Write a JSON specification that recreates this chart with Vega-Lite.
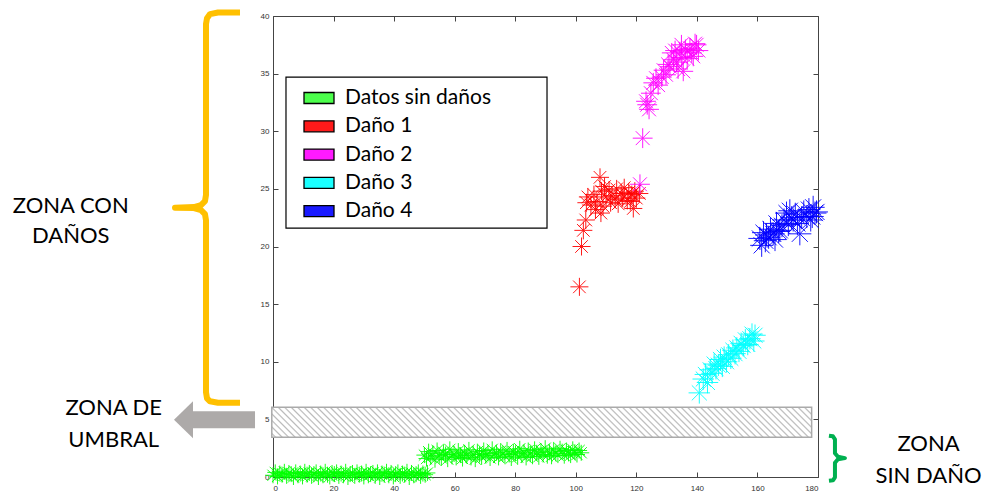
{
"$schema":"https://vega.github.io/schema/vega-lite/v6.json",
"autosize":{"type":"none"},
"padding":{"left":273,"top":16,"right":172,"bottom":14},
"width":545,"height":461,
"background":"white",
"config":{"view":{"stroke":null},"axis":{"grid":false,"domainColor":"#444444","tickColor":"#444444","labelColor":"#333333","labelFont":"Liberation Sans","labelFontSize":8,"tickSize":-5,"domainWidth":1}},
"resolve":{"axis":{"x":"independent","y":"independent"}},
"datasets":{
"umbral":[{"x1":-0.4,"x2":177.9,"y1":3.45,"y2":6.05}],
"marco":[{"x1":4.29,"x2":90.5,"y1":21.6,"y2":34.7}],
"puntos":[
{"serie":"Datos sin daños","x":0,"y":0.15},{"serie":"Datos sin daños","x":0.75,"y":0.4},{"serie":"Datos sin daños","x":1.5,"y":0.05},{"serie":"Datos sin daños","x":2.25,"y":0.3},{"serie":"Datos sin daños","x":3,"y":0.2},{"serie":"Datos sin daños","x":3.75,"y":0.45},{"serie":"Datos sin daños","x":4.5,"y":0.1},{"serie":"Datos sin daños","x":5.25,"y":0.35},{"serie":"Datos sin daños","x":6,"y":0.25},{"serie":"Datos sin daños","x":6.75,"y":0},{"serie":"Datos sin daños","x":7.5,"y":0.4},{"serie":"Datos sin daños","x":8.25,"y":0.15},{"serie":"Datos sin daños","x":9,"y":0.3},{"serie":"Datos sin daños","x":9.75,"y":0.05},{"serie":"Datos sin daños","x":10.5,"y":0.45},{"serie":"Datos sin daños","x":11.25,"y":0.2},{"serie":"Datos sin daños","x":12,"y":0.35},{"serie":"Datos sin daños","x":12.75,"y":0.1},{"serie":"Datos sin daños","x":13.5,"y":0.25},{"serie":"Datos sin daños","x":14.25,"y":0.4},{"serie":"Datos sin daños","x":15,"y":0},{"serie":"Datos sin daños","x":15.75,"y":0.3},{"serie":"Datos sin daños","x":16.5,"y":0.15},{"serie":"Datos sin daños","x":17.25,"y":0.45},{"serie":"Datos sin daños","x":18,"y":0.2},{"serie":"Datos sin daños","x":18.75,"y":0.05},{"serie":"Datos sin daños","x":19.5,"y":0.35},{"serie":"Datos sin daños","x":20.25,"y":0.25},{"serie":"Datos sin daños","x":21,"y":0.4},{"serie":"Datos sin daños","x":21.75,"y":0.1},{"serie":"Datos sin daños","x":22.5,"y":0.3},{"serie":"Datos sin daños","x":23.25,"y":0.15},{"serie":"Datos sin daños","x":24,"y":0.45},{"serie":"Datos sin daños","x":24.75,"y":0},{"serie":"Datos sin daños","x":25.5,"y":0.25},{"serie":"Datos sin daños","x":26.25,"y":0.35},{"serie":"Datos sin daños","x":27,"y":0.1},{"serie":"Datos sin daños","x":27.75,"y":0.4},{"serie":"Datos sin daños","x":28.5,"y":0.2},{"serie":"Datos sin daños","x":29.25,"y":0.3},{"serie":"Datos sin daños","x":30,"y":0.05},{"serie":"Datos sin daños","x":30.75,"y":0.45},{"serie":"Datos sin daños","x":31.5,"y":0.15},{"serie":"Datos sin daños","x":32.25,"y":0.25},{"serie":"Datos sin daños","x":33,"y":0.35},{"serie":"Datos sin daños","x":33.75,"y":0.1},{"serie":"Datos sin daños","x":34.5,"y":0.4},{"serie":"Datos sin daños","x":35.25,"y":0},{"serie":"Datos sin daños","x":36,"y":0.3},{"serie":"Datos sin daños","x":36.75,"y":0.2},{"serie":"Datos sin daños","x":37.5,"y":0.45},{"serie":"Datos sin daños","x":38.25,"y":0.15},{"serie":"Datos sin daños","x":39,"y":0.35},{"serie":"Datos sin daños","x":39.75,"y":0.05},{"serie":"Datos sin daños","x":40.5,"y":0.25},{"serie":"Datos sin daños","x":41.25,"y":0.4},{"serie":"Datos sin daños","x":42,"y":0.1},{"serie":"Datos sin daños","x":42.75,"y":0.3},{"serie":"Datos sin daños","x":43.5,"y":0.2},{"serie":"Datos sin daños","x":44.25,"y":0.45},{"serie":"Datos sin daños","x":45,"y":0},{"serie":"Datos sin daños","x":45.75,"y":0.35},{"serie":"Datos sin daños","x":46.5,"y":0.15},{"serie":"Datos sin daños","x":47.25,"y":0.25},{"serie":"Datos sin daños","x":48,"y":0.4},{"serie":"Datos sin daños","x":48.75,"y":0.1},{"serie":"Datos sin daños","x":49.5,"y":0.3},{"serie":"Datos sin daños","x":50.25,"y":0.2},{"serie":"Datos sin daños","x":51,"y":0.35},
{"serie":"Datos sin daños","x":50,"y":1.9},{"serie":"Datos sin daños","x":50.7,"y":1.6},{"serie":"Datos sin daños","x":51.4,"y":2.2},{"serie":"Datos sin daños","x":52.1,"y":1.75},{"serie":"Datos sin daños","x":52.8,"y":2.05},{"serie":"Datos sin daños","x":53.5,"y":1.5},{"serie":"Datos sin daños","x":54.2,"y":2.3},{"serie":"Datos sin daños","x":54.9,"y":1.85},{"serie":"Datos sin daños","x":55.6,"y":1.65},{"serie":"Datos sin daños","x":56.3,"y":2.15},{"serie":"Datos sin daños","x":57,"y":1.95},{"serie":"Datos sin daños","x":57.7,"y":1.55},{"serie":"Datos sin daños","x":58.4,"y":2.4},{"serie":"Datos sin daños","x":59.1,"y":1.8},{"serie":"Datos sin daños","x":59.8,"y":2},{"serie":"Datos sin daños","x":60.5,"y":1.7},{"serie":"Datos sin daños","x":61.2,"y":2.25},{"serie":"Datos sin daños","x":61.9,"y":1.9},{"serie":"Datos sin daños","x":62.6,"y":1.6},{"serie":"Datos sin daños","x":63.3,"y":2.1},{"serie":"Datos sin daños","x":64,"y":1.85},{"serie":"Datos sin daños","x":64.7,"y":2.35},{"serie":"Datos sin daños","x":65.4,"y":1.7},{"serie":"Datos sin daños","x":66.1,"y":2},{"serie":"Datos sin daños","x":66.8,"y":1.55},{"serie":"Datos sin daños","x":67.5,"y":2.2},{"serie":"Datos sin daños","x":68.2,"y":1.95},{"serie":"Datos sin daños","x":68.9,"y":1.75},{"serie":"Datos sin daños","x":69.6,"y":2.3},{"serie":"Datos sin daños","x":70.3,"y":1.85},{"serie":"Datos sin daños","x":71,"y":2.05},{"serie":"Datos sin daños","x":71.7,"y":1.65},{"serie":"Datos sin daños","x":72.4,"y":2.4},{"serie":"Datos sin daños","x":73.1,"y":1.9},{"serie":"Datos sin daños","x":73.8,"y":2.1},{"serie":"Datos sin daños","x":74.5,"y":1.7},{"serie":"Datos sin daños","x":75.2,"y":2.25},{"serie":"Datos sin daños","x":75.9,"y":2},{"serie":"Datos sin daños","x":76.6,"y":1.8},{"serie":"Datos sin daños","x":77.3,"y":2.35},{"serie":"Datos sin daños","x":78,"y":1.95},{"serie":"Datos sin daños","x":78.7,"y":1.65},{"serie":"Datos sin daños","x":79.4,"y":2.2},{"serie":"Datos sin daños","x":80.1,"y":2.05},{"serie":"Datos sin daños","x":80.8,"y":1.75},{"serie":"Datos sin daños","x":81.5,"y":2.45},{"serie":"Datos sin daños","x":82.2,"y":1.9},{"serie":"Datos sin daños","x":82.9,"y":2.15},{"serie":"Datos sin daños","x":83.6,"y":1.7},{"serie":"Datos sin daños","x":84.3,"y":2.3},{"serie":"Datos sin daños","x":85,"y":2},{"serie":"Datos sin daños","x":85.7,"y":1.8},{"serie":"Datos sin daños","x":86.4,"y":2.4},{"serie":"Datos sin daños","x":87.1,"y":2.1},{"serie":"Datos sin daños","x":87.8,"y":1.75},{"serie":"Datos sin daños","x":88.5,"y":2.25},{"serie":"Datos sin daños","x":89.2,"y":1.95},{"serie":"Datos sin daños","x":89.9,"y":2.5},{"serie":"Datos sin daños","x":90.6,"y":1.85},{"serie":"Datos sin daños","x":91.3,"y":2.15},{"serie":"Datos sin daños","x":92,"y":1.8},{"serie":"Datos sin daños","x":92.7,"y":2.35},{"serie":"Datos sin daños","x":93.4,"y":2.05},{"serie":"Datos sin daños","x":94.1,"y":1.9},{"serie":"Datos sin daños","x":94.8,"y":2.45},{"serie":"Datos sin daños","x":95.5,"y":2.2},{"serie":"Datos sin daños","x":96.2,"y":1.85},{"serie":"Datos sin daños","x":96.9,"y":2.3},{"serie":"Datos sin daños","x":97.6,"y":2.05},{"serie":"Datos sin daños","x":98.3,"y":1.9},{"serie":"Datos sin daños","x":99,"y":2.4},{"serie":"Datos sin daños","x":99.7,"y":2.15},{"serie":"Datos sin daños","x":100.4,"y":1.95},{"serie":"Datos sin daños","x":101.1,"y":2.3},{"serie":"Datos sin daños","x":101.8,"y":2.1},
{"serie":"Daño 1","x":101.2,"y":16.5},{"serie":"Daño 1","x":101.9,"y":20},{"serie":"Daño 1","x":102.5,"y":21.4},{"serie":"Daño 1","x":103.3,"y":22.3},{"serie":"Daño 1","x":103.5,"y":23.8},{"serie":"Daño 1","x":104,"y":24.3},{"serie":"Daño 1","x":105,"y":23.6},{"serie":"Daño 1","x":106,"y":24.5},{"serie":"Daño 1","x":106.5,"y":23.2},{"serie":"Daño 1","x":107,"y":23.9},{"serie":"Daño 1","x":108,"y":26},{"serie":"Daño 1","x":108.3,"y":22.9},{"serie":"Daño 1","x":108.5,"y":24.8},{"serie":"Daño 1","x":109,"y":23.5},{"serie":"Daño 1","x":109.5,"y":25.2},{"serie":"Daño 1","x":110,"y":24.3},{"serie":"Daño 1","x":111,"y":24.9},{"serie":"Daño 1","x":111.5,"y":23.8},{"serie":"Daño 1","x":112,"y":24.4},{"serie":"Daño 1","x":113,"y":24.1},{"serie":"Daño 1","x":113.5,"y":25},{"serie":"Daño 1","x":114,"y":23.7},{"serie":"Daño 1","x":115,"y":24.6},{"serie":"Daño 1","x":115.5,"y":24.2},{"serie":"Daño 1","x":116,"y":25.1},{"serie":"Daño 1","x":117,"y":24},{"serie":"Daño 1","x":117.5,"y":24.7},{"serie":"Daño 1","x":118,"y":23.9},{"serie":"Daño 1","x":118.5,"y":24.5},{"serie":"Daño 1","x":119,"y":23.3},{"serie":"Daño 1","x":119.5,"y":24.8},{"serie":"Daño 1","x":120,"y":24.2},{"serie":"Daño 1","x":121,"y":24.6},
{"serie":"Daño 2","x":121.2,"y":25.4},{"serie":"Daño 2","x":122.1,"y":29.4},{"serie":"Daño 2","x":123.6,"y":32.3},{"serie":"Daño 2","x":123.2,"y":32.6},{"serie":"Daño 2","x":124.2,"y":31.9},{"serie":"Daño 2","x":124.8,"y":33.3},{"serie":"Daño 2","x":125.6,"y":34.2},{"serie":"Daño 2","x":126.5,"y":34.6},{"serie":"Daño 2","x":127.2,"y":34},{"serie":"Daño 2","x":128.4,"y":34.7},{"serie":"Daño 2","x":129,"y":35.3},{"serie":"Daño 2","x":129.8,"y":34.9},{"serie":"Daño 2","x":130.5,"y":35.8},{"serie":"Daño 2","x":131.1,"y":35.6},{"serie":"Daño 2","x":131.7,"y":36.8},{"serie":"Daño 2","x":132.3,"y":36.2},{"serie":"Daño 2","x":132.8,"y":37},{"serie":"Daño 2","x":133.3,"y":36},{"serie":"Daño 2","x":133.8,"y":35.4},{"serie":"Daño 2","x":134.4,"y":36.9},{"serie":"Daño 2","x":134.9,"y":37.5},{"serie":"Daño 2","x":135,"y":36.4},{"serie":"Daño 2","x":135.5,"y":35.2},{"serie":"Daño 2","x":136.2,"y":37.1},{"serie":"Daño 2","x":136.8,"y":36.3},{"serie":"Daño 2","x":137.7,"y":37.2},{"serie":"Daño 2","x":138.3,"y":36.8},{"serie":"Daño 2","x":138.8,"y":36.5},{"serie":"Daño 2","x":139.4,"y":37.6},{"serie":"Daño 2","x":139.9,"y":37.5},{"serie":"Daño 2","x":140.5,"y":37},
{"serie":"Daño 3","x":140.8,"y":7.3},{"serie":"Daño 3","x":142.1,"y":8.5},{"serie":"Daño 3","x":142.8,"y":8.9},{"serie":"Daño 3","x":143.5,"y":8.2},{"serie":"Daño 3","x":144.4,"y":9.3},{"serie":"Daño 3","x":145,"y":9},{"serie":"Daño 3","x":145.7,"y":9.8},{"serie":"Daño 3","x":146.3,"y":9.4},{"serie":"Daño 3","x":147.1,"y":9.7},{"serie":"Daño 3","x":147.8,"y":10.2},{"serie":"Daño 3","x":148.4,"y":9.6},{"serie":"Daño 3","x":149,"y":10.4},{"serie":"Daño 3","x":149.8,"y":10},{"serie":"Daño 3","x":150.5,"y":10.6},{"serie":"Daño 3","x":151.2,"y":10.3},{"serie":"Daño 3","x":151.9,"y":11},{"serie":"Daño 3","x":152.6,"y":10.7},{"serie":"Daño 3","x":153.2,"y":11.2},{"serie":"Daño 3","x":153.9,"y":10.9},{"serie":"Daño 3","x":154.6,"y":11.6},{"serie":"Daño 3","x":155.3,"y":11.4},{"serie":"Daño 3","x":156,"y":11.9},{"serie":"Daño 3","x":156.8,"y":11.5},{"serie":"Daño 3","x":157.5,"y":12},{"serie":"Daño 3","x":158.2,"y":12.4},{"serie":"Daño 3","x":158.8,"y":11.8},{"serie":"Daño 3","x":159.2,"y":12.3},
{"serie":"Daño 4","x":160.8,"y":20.7},{"serie":"Daño 4","x":161.4,"y":20.1},{"serie":"Daño 4","x":162,"y":21.2},{"serie":"Daño 4","x":162.6,"y":20.5},{"serie":"Daño 4","x":163,"y":21},{"serie":"Daño 4","x":163.7,"y":20.8},{"serie":"Daño 4","x":164.3,"y":21.5},{"serie":"Daño 4","x":165.2,"y":21.1},{"serie":"Daño 4","x":165.8,"y":20.6},{"serie":"Daño 4","x":166.3,"y":22},{"serie":"Daño 4","x":167,"y":21.3},{"serie":"Daño 4","x":167.4,"y":21.4},{"serie":"Daño 4","x":168.1,"y":21.8},{"serie":"Daño 4","x":168.8,"y":22.3},{"serie":"Daño 4","x":169.6,"y":22.9},{"serie":"Daño 4","x":170.2,"y":21.9},{"serie":"Daño 4","x":170.7,"y":23.1},{"serie":"Daño 4","x":171.3,"y":22.5},{"serie":"Daño 4","x":171.8,"y":22.3},{"serie":"Daño 4","x":172.5,"y":22.8},{"serie":"Daño 4","x":173.2,"y":22},{"serie":"Daño 4","x":174,"y":21.1},{"serie":"Daño 4","x":174.6,"y":22.5},{"serie":"Daño 4","x":175.3,"y":23},{"serie":"Daño 4","x":176.3,"y":22.6},{"serie":"Daño 4","x":177,"y":23.2},{"serie":"Daño 4","x":177.6,"y":22.3},{"serie":"Daño 4","x":178.1,"y":22.6},{"serie":"Daño 4","x":178.4,"y":23.4},{"serie":"Daño 4","x":179,"y":22.9},{"serie":"Daño 4","x":179.5,"y":23}
],
"llave_naranja":[{"o":1,"x":-10.9,"y":40.3},{"o":2,"x":-18.16,"y":40.3},{"o":3,"x":-20.81,"y":40.16},{"o":4,"x":-21.8,"y":39.81},{"o":5,"x":-22.13,"y":39.3},{"o":6,"x":-22.13,"y":24.46},{"o":7,"x":-22.46,"y":23.94},{"o":8,"x":-23.78,"y":23.59},{"o":9,"x":-26.09,"y":23.42},{"o":10,"x":-32.36,"y":23.37},{"o":11,"x":-26.09,"y":23.33},{"o":12,"x":-23.78,"y":23.15},{"o":13,"x":-22.46,"y":22.8},{"o":14,"x":-22.13,"y":22.28},{"o":15,"x":-22.13,"y":7.35},{"o":16,"x":-21.8,"y":6.83},{"o":17,"x":-20.81,"y":6.57},{"o":18,"x":-18.16,"y":6.44},{"o":19,"x":-10.9,"y":6.44}],
"llave_verde":[{"o":1,"x":183.62,"y":3.58},{"o":2,"x":184.94,"y":3.53},{"o":3,"x":185.6,"y":3.27},{"o":4,"x":185.6,"y":2.06},{"o":5,"x":186.59,"y":1.75},{"o":6,"x":188.9,"y":1.64},{"o":7,"x":186.59,"y":1.54},{"o":8,"x":185.6,"y":1.23},{"o":9,"x":185.6,"y":-0.03},{"o":10,"x":184.94,"y":-0.29},{"o":11,"x":183.62,"y":-0.33}],
"flecha":[{"x1":-26.75,"x2":-5.94,"y":4.97,"xp":-29.56}],
"textos":[{"x":-66.8,"y":22.89,"texto":"ZONA CON"},{"x":-66.8,"y":20.29,"texto":"DAÑOS"},{"x":-52.6,"y":5.36,"texto":"ZONA DE"},{"x":-52.6,"y":2.58,"texto":"UMBRAL"},{"x":216.5,"y":2.23,"texto":"ZONA"},{"x":216.5,"y":-0.55,"texto":"SIN DAÑO"}]
},
"layer":[
{"data":{"name":"umbral"},
"mark":{"type":"rect","stroke":"#aaaaaa","strokeWidth":1.5,"fill":{"gradient":"linear","x1":-0.1,"y1":0.5333,"x2":1.1,"y2":0.4667,"stops":[
{"offset":0,"color":"#fff"},{"offset":0.005,"color":"#fff"},{"offset":0.0075,"color":"#b8b8b8"},
{"offset":0.01,"color":"#fff"},{"offset":0.015,"color":"#fff"},{"offset":0.0175,"color":"#b8b8b8"},
{"offset":0.02,"color":"#fff"},{"offset":0.025,"color":"#fff"},{"offset":0.0275,"color":"#b8b8b8"},
{"offset":0.03,"color":"#fff"},{"offset":0.035,"color":"#fff"},{"offset":0.0375,"color":"#b8b8b8"},
{"offset":0.04,"color":"#fff"},{"offset":0.045,"color":"#fff"},{"offset":0.0475,"color":"#b8b8b8"},
{"offset":0.05,"color":"#fff"},{"offset":0.055,"color":"#fff"},{"offset":0.0575,"color":"#b8b8b8"},
{"offset":0.06,"color":"#fff"},{"offset":0.065,"color":"#fff"},{"offset":0.0675,"color":"#b8b8b8"},
{"offset":0.07,"color":"#fff"},{"offset":0.075,"color":"#fff"},{"offset":0.0775,"color":"#b8b8b8"},
{"offset":0.08,"color":"#fff"},{"offset":0.085,"color":"#fff"},{"offset":0.0875,"color":"#b8b8b8"},
{"offset":0.09,"color":"#fff"},{"offset":0.095,"color":"#fff"},{"offset":0.0975,"color":"#b8b8b8"},
{"offset":0.1,"color":"#fff"},{"offset":0.105,"color":"#fff"},{"offset":0.1075,"color":"#b8b8b8"},
{"offset":0.11,"color":"#fff"},{"offset":0.115,"color":"#fff"},{"offset":0.1175,"color":"#b8b8b8"},
{"offset":0.12,"color":"#fff"},{"offset":0.125,"color":"#fff"},{"offset":0.1275,"color":"#b8b8b8"},
{"offset":0.13,"color":"#fff"},{"offset":0.135,"color":"#fff"},{"offset":0.1375,"color":"#b8b8b8"},
{"offset":0.14,"color":"#fff"},{"offset":0.145,"color":"#fff"},{"offset":0.1475,"color":"#b8b8b8"},
{"offset":0.15,"color":"#fff"},{"offset":0.155,"color":"#fff"},{"offset":0.1575,"color":"#b8b8b8"},
{"offset":0.16,"color":"#fff"},{"offset":0.165,"color":"#fff"},{"offset":0.1675,"color":"#b8b8b8"},
{"offset":0.17,"color":"#fff"},{"offset":0.175,"color":"#fff"},{"offset":0.1775,"color":"#b8b8b8"},
{"offset":0.18,"color":"#fff"},{"offset":0.185,"color":"#fff"},{"offset":0.1875,"color":"#b8b8b8"},
{"offset":0.19,"color":"#fff"},{"offset":0.195,"color":"#fff"},{"offset":0.1975,"color":"#b8b8b8"},
{"offset":0.2,"color":"#fff"},{"offset":0.205,"color":"#fff"},{"offset":0.2075,"color":"#b8b8b8"},
{"offset":0.21,"color":"#fff"},{"offset":0.215,"color":"#fff"},{"offset":0.2175,"color":"#b8b8b8"},
{"offset":0.22,"color":"#fff"},{"offset":0.225,"color":"#fff"},{"offset":0.2275,"color":"#b8b8b8"},
{"offset":0.23,"color":"#fff"},{"offset":0.235,"color":"#fff"},{"offset":0.2375,"color":"#b8b8b8"},
{"offset":0.24,"color":"#fff"},{"offset":0.245,"color":"#fff"},{"offset":0.2475,"color":"#b8b8b8"},
{"offset":0.25,"color":"#fff"},{"offset":0.255,"color":"#fff"},{"offset":0.2575,"color":"#b8b8b8"},
{"offset":0.26,"color":"#fff"},{"offset":0.265,"color":"#fff"},{"offset":0.2675,"color":"#b8b8b8"},
{"offset":0.27,"color":"#fff"},{"offset":0.275,"color":"#fff"},{"offset":0.2775,"color":"#b8b8b8"},
{"offset":0.28,"color":"#fff"},{"offset":0.285,"color":"#fff"},{"offset":0.2875,"color":"#b8b8b8"},
{"offset":0.29,"color":"#fff"},{"offset":0.295,"color":"#fff"},{"offset":0.2975,"color":"#b8b8b8"},
{"offset":0.3,"color":"#fff"},{"offset":0.305,"color":"#fff"},{"offset":0.3075,"color":"#b8b8b8"},
{"offset":0.31,"color":"#fff"},{"offset":0.315,"color":"#fff"},{"offset":0.3175,"color":"#b8b8b8"},
{"offset":0.32,"color":"#fff"},{"offset":0.325,"color":"#fff"},{"offset":0.3275,"color":"#b8b8b8"},
{"offset":0.33,"color":"#fff"},{"offset":0.335,"color":"#fff"},{"offset":0.3375,"color":"#b8b8b8"},
{"offset":0.34,"color":"#fff"},{"offset":0.345,"color":"#fff"},{"offset":0.3475,"color":"#b8b8b8"},
{"offset":0.35,"color":"#fff"},{"offset":0.355,"color":"#fff"},{"offset":0.3575,"color":"#b8b8b8"},
{"offset":0.36,"color":"#fff"},{"offset":0.365,"color":"#fff"},{"offset":0.3675,"color":"#b8b8b8"},
{"offset":0.37,"color":"#fff"},{"offset":0.375,"color":"#fff"},{"offset":0.3775,"color":"#b8b8b8"},
{"offset":0.38,"color":"#fff"},{"offset":0.385,"color":"#fff"},{"offset":0.3875,"color":"#b8b8b8"},
{"offset":0.39,"color":"#fff"},{"offset":0.395,"color":"#fff"},{"offset":0.3975,"color":"#b8b8b8"},
{"offset":0.4,"color":"#fff"},{"offset":0.405,"color":"#fff"},{"offset":0.4075,"color":"#b8b8b8"},
{"offset":0.41,"color":"#fff"},{"offset":0.415,"color":"#fff"},{"offset":0.4175,"color":"#b8b8b8"},
{"offset":0.42,"color":"#fff"},{"offset":0.425,"color":"#fff"},{"offset":0.4275,"color":"#b8b8b8"},
{"offset":0.43,"color":"#fff"},{"offset":0.435,"color":"#fff"},{"offset":0.4375,"color":"#b8b8b8"},
{"offset":0.44,"color":"#fff"},{"offset":0.445,"color":"#fff"},{"offset":0.4475,"color":"#b8b8b8"},
{"offset":0.45,"color":"#fff"},{"offset":0.455,"color":"#fff"},{"offset":0.4575,"color":"#b8b8b8"},
{"offset":0.46,"color":"#fff"},{"offset":0.465,"color":"#fff"},{"offset":0.4675,"color":"#b8b8b8"},
{"offset":0.47,"color":"#fff"},{"offset":0.475,"color":"#fff"},{"offset":0.4775,"color":"#b8b8b8"},
{"offset":0.48,"color":"#fff"},{"offset":0.485,"color":"#fff"},{"offset":0.4875,"color":"#b8b8b8"},
{"offset":0.49,"color":"#fff"},{"offset":0.495,"color":"#fff"},{"offset":0.4975,"color":"#b8b8b8"},
{"offset":0.5,"color":"#fff"},{"offset":0.505,"color":"#fff"},{"offset":0.5075,"color":"#b8b8b8"},
{"offset":0.51,"color":"#fff"},{"offset":0.515,"color":"#fff"},{"offset":0.5175,"color":"#b8b8b8"},
{"offset":0.52,"color":"#fff"},{"offset":0.525,"color":"#fff"},{"offset":0.5275,"color":"#b8b8b8"},
{"offset":0.53,"color":"#fff"},{"offset":0.535,"color":"#fff"},{"offset":0.5375,"color":"#b8b8b8"},
{"offset":0.54,"color":"#fff"},{"offset":0.545,"color":"#fff"},{"offset":0.5475,"color":"#b8b8b8"},
{"offset":0.55,"color":"#fff"},{"offset":0.555,"color":"#fff"},{"offset":0.5575,"color":"#b8b8b8"},
{"offset":0.56,"color":"#fff"},{"offset":0.565,"color":"#fff"},{"offset":0.5675,"color":"#b8b8b8"},
{"offset":0.57,"color":"#fff"},{"offset":0.575,"color":"#fff"},{"offset":0.5775,"color":"#b8b8b8"},
{"offset":0.58,"color":"#fff"},{"offset":0.585,"color":"#fff"},{"offset":0.5875,"color":"#b8b8b8"},
{"offset":0.59,"color":"#fff"},{"offset":0.595,"color":"#fff"},{"offset":0.5975,"color":"#b8b8b8"},
{"offset":0.6,"color":"#fff"},{"offset":0.605,"color":"#fff"},{"offset":0.6075,"color":"#b8b8b8"},
{"offset":0.61,"color":"#fff"},{"offset":0.615,"color":"#fff"},{"offset":0.6175,"color":"#b8b8b8"},
{"offset":0.62,"color":"#fff"},{"offset":0.625,"color":"#fff"},{"offset":0.6275,"color":"#b8b8b8"},
{"offset":0.63,"color":"#fff"},{"offset":0.635,"color":"#fff"},{"offset":0.6375,"color":"#b8b8b8"},
{"offset":0.64,"color":"#fff"},{"offset":0.645,"color":"#fff"},{"offset":0.6475,"color":"#b8b8b8"},
{"offset":0.65,"color":"#fff"},{"offset":0.655,"color":"#fff"},{"offset":0.6575,"color":"#b8b8b8"},
{"offset":0.66,"color":"#fff"},{"offset":0.665,"color":"#fff"},{"offset":0.6675,"color":"#b8b8b8"},
{"offset":0.67,"color":"#fff"},{"offset":0.675,"color":"#fff"},{"offset":0.6775,"color":"#b8b8b8"},
{"offset":0.68,"color":"#fff"},{"offset":0.685,"color":"#fff"},{"offset":0.6875,"color":"#b8b8b8"},
{"offset":0.69,"color":"#fff"},{"offset":0.695,"color":"#fff"},{"offset":0.6975,"color":"#b8b8b8"},
{"offset":0.7,"color":"#fff"},{"offset":0.705,"color":"#fff"},{"offset":0.7075,"color":"#b8b8b8"},
{"offset":0.71,"color":"#fff"},{"offset":0.715,"color":"#fff"},{"offset":0.7175,"color":"#b8b8b8"},
{"offset":0.72,"color":"#fff"},{"offset":0.725,"color":"#fff"},{"offset":0.7275,"color":"#b8b8b8"},
{"offset":0.73,"color":"#fff"},{"offset":0.735,"color":"#fff"},{"offset":0.7375,"color":"#b8b8b8"},
{"offset":0.74,"color":"#fff"},{"offset":0.745,"color":"#fff"},{"offset":0.7475,"color":"#b8b8b8"},
{"offset":0.75,"color":"#fff"},{"offset":0.755,"color":"#fff"},{"offset":0.7575,"color":"#b8b8b8"},
{"offset":0.76,"color":"#fff"},{"offset":0.765,"color":"#fff"},{"offset":0.7675,"color":"#b8b8b8"},
{"offset":0.77,"color":"#fff"},{"offset":0.775,"color":"#fff"},{"offset":0.7775,"color":"#b8b8b8"},
{"offset":0.78,"color":"#fff"},{"offset":0.785,"color":"#fff"},{"offset":0.7875,"color":"#b8b8b8"},
{"offset":0.79,"color":"#fff"},{"offset":0.795,"color":"#fff"},{"offset":0.7975,"color":"#b8b8b8"},
{"offset":0.8,"color":"#fff"},{"offset":0.805,"color":"#fff"},{"offset":0.8075,"color":"#b8b8b8"},
{"offset":0.81,"color":"#fff"},{"offset":0.815,"color":"#fff"},{"offset":0.8175,"color":"#b8b8b8"},
{"offset":0.82,"color":"#fff"},{"offset":0.825,"color":"#fff"},{"offset":0.8275,"color":"#b8b8b8"},
{"offset":0.83,"color":"#fff"},{"offset":0.835,"color":"#fff"},{"offset":0.8375,"color":"#b8b8b8"},
{"offset":0.84,"color":"#fff"},{"offset":0.845,"color":"#fff"},{"offset":0.8475,"color":"#b8b8b8"},
{"offset":0.85,"color":"#fff"},{"offset":0.855,"color":"#fff"},{"offset":0.8575,"color":"#b8b8b8"},
{"offset":0.86,"color":"#fff"},{"offset":0.865,"color":"#fff"},{"offset":0.8675,"color":"#b8b8b8"},
{"offset":0.87,"color":"#fff"},{"offset":0.875,"color":"#fff"},{"offset":0.8775,"color":"#b8b8b8"},
{"offset":0.88,"color":"#fff"},{"offset":0.885,"color":"#fff"},{"offset":0.8875,"color":"#b8b8b8"},
{"offset":0.89,"color":"#fff"},{"offset":0.895,"color":"#fff"},{"offset":0.8975,"color":"#b8b8b8"},
{"offset":0.9,"color":"#fff"},{"offset":0.905,"color":"#fff"},{"offset":0.9075,"color":"#b8b8b8"},
{"offset":0.91,"color":"#fff"},{"offset":0.915,"color":"#fff"},{"offset":0.9175,"color":"#b8b8b8"},
{"offset":0.92,"color":"#fff"},{"offset":0.925,"color":"#fff"},{"offset":0.9275,"color":"#b8b8b8"},
{"offset":0.93,"color":"#fff"},{"offset":0.935,"color":"#fff"},{"offset":0.9375,"color":"#b8b8b8"},
{"offset":0.94,"color":"#fff"},{"offset":0.945,"color":"#fff"},{"offset":0.9475,"color":"#b8b8b8"},
{"offset":0.95,"color":"#fff"},{"offset":0.955,"color":"#fff"},{"offset":0.9575,"color":"#b8b8b8"},
{"offset":0.96,"color":"#fff"},{"offset":0.965,"color":"#fff"},{"offset":0.9675,"color":"#b8b8b8"},
{"offset":0.97,"color":"#fff"},{"offset":0.975,"color":"#fff"},{"offset":0.9775,"color":"#b8b8b8"},
{"offset":0.98,"color":"#fff"},{"offset":0.985,"color":"#fff"},{"offset":0.9875,"color":"#b8b8b8"},
{"offset":0.99,"color":"#fff"},{"offset":0.995,"color":"#fff"},{"offset":0.9975,"color":"#b8b8b8"},
{"offset":1,"color":"#fff"}]}},
"encoding":{
"x":{"field":"x1","type":"quantitative","scale":{"domain":[0,180],"nice":false},"axis":{"orient":"top","labels":false,"values":[0,20,40,60,80,100,120,140,160,180],"title":null,"tickSize":-5}},
"x2":{"field":"x2"},
"y":{"field":"y1","type":"quantitative","scale":{"domain":[0,40],"nice":false},"axis":{"orient":"right","labels":false,"values":[0,5,10,15,20,25,30,35,40],"title":null,"tickSize":-5}},
"y2":{"field":"y2"}}},
{"data":{"name":"marco"},
"mark":{"type":"rect","fill":"white","stroke":"black","strokeWidth":1.2},
"encoding":{"x":{"field":"x1","type":"quantitative","scale":{"domain":[0,180],"nice":false},"axis":null},"x2":{"field":"x2"},"y":{"field":"y1","type":"quantitative","scale":{"domain":[0,40],"nice":false},"axis":null},"y2":{"field":"y2"}}},
{"data":{"name":"puntos"},
"mark":{"type":"point","shape":"M-1,0H1M0,-1V1M-0.7,-0.7L0.7,0.7M-0.7,0.7L0.7,-0.7","filled":false,"strokeWidth":1,"opacity":0.9},
"encoding":{
"x":{"field":"x","type":"quantitative","scale":{"domain":[0,180],"nice":false},"axis":{"orient":"bottom","values":[0,20,40,60,80,100,120,140,160,180],"title":null,"tickSize":-5,"labelPadding":12}},
"y":{"field":"y","type":"quantitative","scale":{"domain":[0,40],"nice":false},"axis":{"orient":"left","values":[0,5,10,15,20,25,30,35,40],"title":null,"tickSize":-5,"labelPadding":9}},
"color":{"field":"serie","type":"nominal","scale":{"range":["#00ff00","#ff0000","#ff00ff","#00ffff","#0000ff"]},"legend":null},
"size":{"field":"serie","type":"nominal","scale":{"range":[256,530,530,530,530]},"legend":null}}},
{"data":{"name":"puntos"},
"transform":[{"filter":"false"}],
"mark":{"type":"point","shape":"M-1.5,-0.55H1.5V0.55H-1.5Z","filled":true,"stroke":"black","strokeWidth":1.3,"opacity":1},
"encoding":{
"x":{"field":"x","type":"quantitative","scale":{"domain":[0,180],"nice":false},"axis":null},
"y":{"field":"y","type":"quantitative","scale":{"domain":[0,40],"nice":false},"axis":null},
"fill":{"field":"serie","type":"nominal","scale":{"domain":["Datos sin daños","Daño 1","Daño 2","Daño 3","Daño 4"],"range":["#4cff4c","#ff1a1a","#ff1aff","#1affff","#1a1aff"]},
"legend":{"title":null,"orient":"none","legendX":35,"legendY":71,"padding":0,"rowPadding":7.3,"labelFont":"Lato","labelFontSize":21,"labelColor":"black","labelOffset":15,"labelLimit":300,"symbolType":"M-1.5,-0.55H1.5V0.55H-1.5Z","symbolSize":400,"symbolStrokeColor":"black","symbolStrokeWidth":1.3}}}},
{"data":{"name":"llave_naranja"},
"mark":{"type":"line","color":"#ffc000","strokeWidth":6,"strokeJoin":"round"},
"encoding":{"x":{"field":"x","type":"quantitative","scale":{"domain":[0,180],"nice":false},"axis":null},"y":{"field":"y","type":"quantitative","scale":{"domain":[0,40],"nice":false},"axis":null},"order":{"field":"o","type":"quantitative"}}},
{"data":{"name":"llave_verde"},
"mark":{"type":"line","color":"#00b050","strokeWidth":4,"strokeJoin":"round"},
"encoding":{"x":{"field":"x","type":"quantitative","scale":{"domain":[0,180],"nice":false},"axis":null},"y":{"field":"y","type":"quantitative","scale":{"domain":[0,40],"nice":false},"axis":null},"order":{"field":"o","type":"quantitative"}}},
{"data":{"name":"flecha"},
"mark":{"type":"rule","color":"#adaaa9","strokeWidth":17,"strokeCap":"butt"},
"encoding":{"x":{"field":"x1","type":"quantitative","scale":{"domain":[0,180],"nice":false},"axis":null},"x2":{"field":"x2"},"y":{"field":"y","type":"quantitative","scale":{"domain":[0,40],"nice":false},"axis":null}}},
{"data":{"name":"flecha"},
"mark":{"type":"point","shape":"M-0.514,0L0.514,-1L0.514,1Z","filled":true,"color":"#adaaa9","opacity":1,"size":1369},
"encoding":{"x":{"field":"xp","type":"quantitative","scale":{"domain":[0,180],"nice":false},"axis":null},"y":{"field":"y","type":"quantitative","scale":{"domain":[0,40],"nice":false},"axis":null}}},
{"data":{"name":"textos"},
"mark":{"type":"text","font":"Lato","fontSize":22,"align":"center","baseline":"alphabetic","color":"black"},
"encoding":{"x":{"field":"x","type":"quantitative","scale":{"domain":[0,180],"nice":false},"axis":null},"y":{"field":"y","type":"quantitative","scale":{"domain":[0,40],"nice":false},"axis":null},"text":{"field":"texto"}}}
]
}
